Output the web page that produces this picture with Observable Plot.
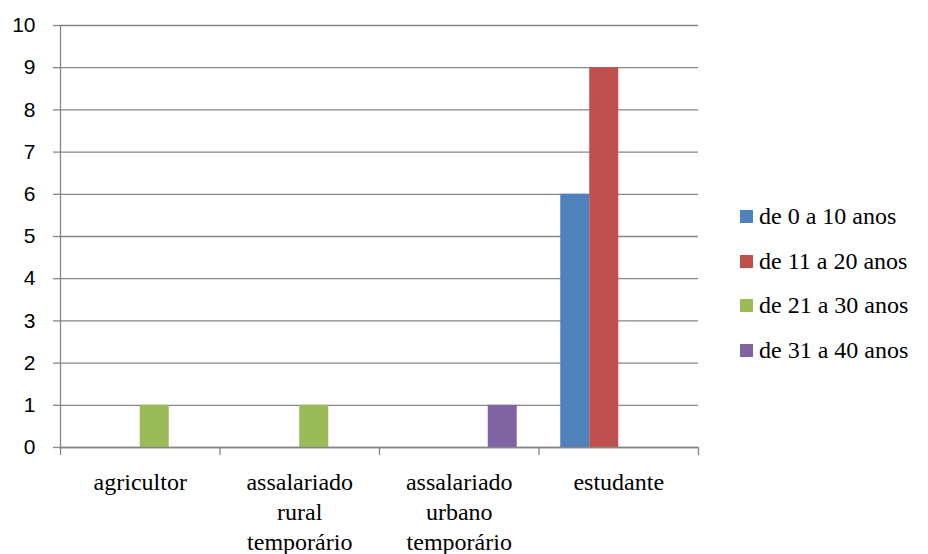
<!DOCTYPE html>
<html>
<head>
<meta charset="utf-8">
<script src="https://cdn.jsdelivr.net/npm/d3@7"></script>
<script src="https://cdn.jsdelivr.net/npm/@observablehq/plot@0.6"></script>
<style>
  html, body { margin: 0; padding: 0; background: #fff; }
  #chart { position: relative; width: 928px; height: 554px; }
  #legend {
    position: absolute; left: 740px; top: 194px;
    font-family: "Liberation Serif", "DejaVu Serif", serif;
    font-size: 24px; color: #000;
  }
  #legend .row { display: flex; align-items: center; height: 44.7px; }
  #legend .sw { width: 13px; height: 13px; margin-right: 6px; flex: none; }
</style>
</head>
<body>
<div id="chart"></div>
<script>
// Occupations (x groups) and their printed labels
const categories = ["agricultor", "assalariado rural temporário", "assalariado urbano temporário", "estudante"];
const categoryLabels = ["agricultor", "assalariado\nrural\ntemporário", "assalariado\nurbano\ntemporário", "estudante"];

// Age bands (series)
const series = ["de 0 a 10 anos", "de 11 a 20 anos", "de 21 a 30 anos", "de 31 a 40 anos"];
const colors = ["#4F81BD", "#C0504D", "#9BBB59", "#8064A2"];

// Counts per age band, one value per occupation
const age0to10 = [0, 0, 0, 6];
const age11to20 = [0, 0, 0, 9];
const age21to30 = [1, 1, 0, 0];
const age31to40 = [0, 0, 1, 0];

const yTicks = [0, 1, 2, 3, 4, 5, 6, 7, 8, 9, 10];

// Long table: each group is one unit wide on x, bars sit side by side
// with a gap of 0.75 bar widths on either side of the cluster.
const sideGap = 0.75;
const slots = series.length + 2 * sideGap;
const valuesBySeries = [age0to10, age11to20, age21to30, age31to40];
const rows = [];
categories.forEach((c, i) => {
  series.forEach((s, j) => {
    const v = valuesBySeries[j][i];
    if (v > 0) rows.push({
      category: c, series: s, value: v,
      x1: i + (sideGap + j) / slots,
      x2: i + (sideGap + j + 1) / slots
    });
  });
});

const gray = "#868686";
const serif = "'Liberation Serif', 'DejaVu Serif', serif";

const plot = Plot.plot({
  width: 928,
  height: 554,
  marginLeft: 60,
  marginRight: 230,
  marginTop: 25,
  marginBottom: 107,
  style: { fontFamily: serif, background: "#fff", overflow: "visible" },
  x: { type: "linear", domain: [0, categories.length] },
  y: { domain: [0, 10] },
  color: { domain: series, range: colors },
  marks: [
    Plot.gridY(yTicks, { stroke: gray, strokeOpacity: 1, strokeWidth: 1.3 }),
    Plot.axisY({
      ticks: yTicks, tickSize: 7, tickPadding: 18, stroke: gray, strokeWidth: 1.3,
      fontFamily: "'Liberation Sans', Arial, sans-serif", fontSize: 21, fill: "#000",
      tickFormat: d3.format("d"), label: null
    }),
    Plot.axisX({
      ticks: d3.range(0, categories.length + 1), tickSize: 8, stroke: gray, strokeWidth: 1.3,
      tickFormat: () => "", label: null
    }),
    Plot.rectY(rows, { x1: "x1", x2: "x2", y: "value", fill: "series" }),
    Plot.ruleY([0], { stroke: gray, strokeWidth: 1.3 }),
    Plot.ruleX([0], { stroke: gray, strokeWidth: 1.3 }),
    Plot.text(categoryLabels, {
      x: (d, i) => i + 0.5, y: () => 0,
      text: d => d, lineAnchor: "top", dy: 21, lineHeight: 1.25,
      fontFamily: serif, fontSize: 24, fill: "#000"
    })
  ]
});

const chart = document.getElementById("chart");
chart.appendChild(plot);

// Legend to the right of the plot area
const legend = document.createElement("div");
legend.id = "legend";
series.forEach((s, j) => {
  const row = document.createElement("div");
  row.className = "row";
  const sw = document.createElement("span");
  sw.className = "sw";
  sw.style.background = colors[j];
  const label = document.createElement("span");
  label.textContent = s;
  row.append(sw, label);
  legend.appendChild(row);
});
chart.appendChild(legend);
</script>
</body>
</html>
